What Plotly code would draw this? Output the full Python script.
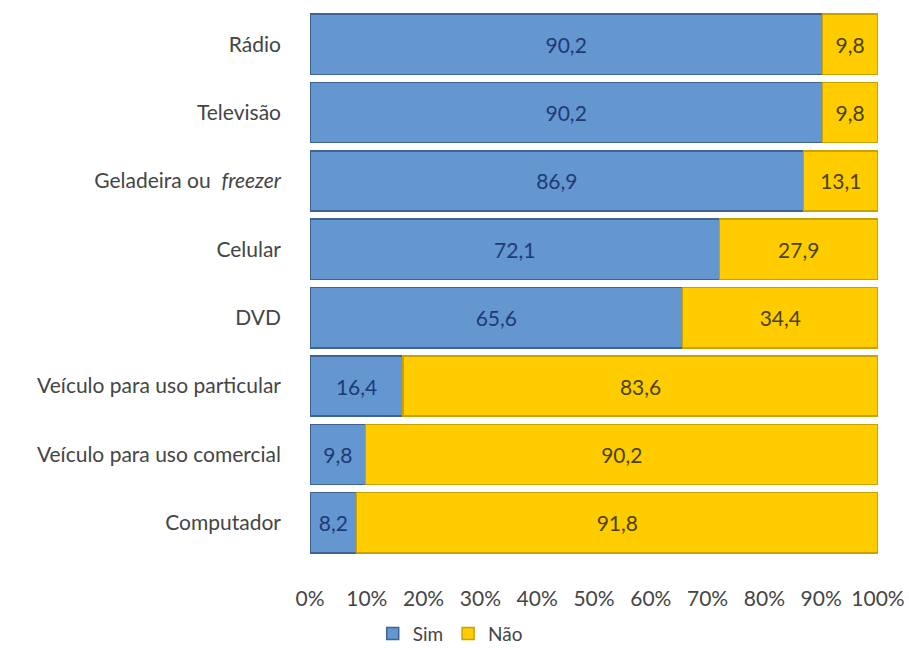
import plotly.graph_objects as go

# Posse de bens no domicílio (%)
categorias = [
    "Rádio",
    "Televisão",
    "Geladeira ou  <i>freezer</i>",
    "Celular",
    "DVD",
    "Veículo para uso particular",
    "Veículo para uso comercial",
    "Computador",
]
sim = [90.2, 90.2, 86.9, 72.1, 65.6, 16.4, 9.8, 8.2]
nao = [9.8, 9.8, 13.1, 27.9, 34.4, 83.6, 90.2, 91.8]
ticks_x = [0, 10, 20, 30, 40, 50, 60, 70, 80, 90, 100]
ticks_txt = [f"{t}%" for t in ticks_x]

FONT = "Lato"
fig = go.Figure()
fig.add_trace(go.Bar(
    name="Sim", y=categorias, x=sim, orientation="h",
    marker=dict(color="#6496cf", line=dict(color="#3d6494", width=1.5)),
    texttemplate="%{x:.1f}", textposition="inside", insidetextanchor="middle",
    textfont=dict(color="#1f3a78", size=21, family=FONT),
    constraintext="none",
))
fig.add_trace(go.Bar(
    name="Não", y=categorias, x=nao, orientation="h",
    marker=dict(color="#ffcc00", line=dict(color="#c9a200", width=1.5)),
    texttemplate="%{x:.1f}", textposition="inside", insidetextanchor="middle",
    textfont=dict(color="#4a4200", size=21, family=FONT),
    constraintext="none",
))

fig.update_layout(
    barmode="stack",
    bargap=0.12,
    separators=", ",
    width=909, height=648,
    margin=dict(l=310, r=31, t=10, b=91),
    paper_bgcolor="white", plot_bgcolor="white",
    font=dict(family=FONT, size=21, color="#454545"),
    xaxis=dict(
        range=[0, 100], tickmode="array", tickvals=ticks_x, ticktext=ticks_txt,
        showgrid=False, zeroline=False, showline=False,
        tickfont=dict(size=21, color="#454545"), ticks="",
        ticklabelstandoff=27,
    ),
    yaxis=dict(
        categoryorder="array", categoryarray=categorias,
        autorange="reversed", showgrid=False, showline=False,
        tickfont=dict(size=21, color="#454545"), ticks="", ticklabelstandoff=28,
    ),
    legend=dict(
        orientation="h", xref="container", yref="container",
        x=0.41, xanchor="left", y=0.022, yanchor="middle",
        font=dict(size=19, color="#454545"),
        itemwidth=30, traceorder="normal",
    ),
)
fig.update_xaxes(automargin=False)
fig.update_yaxes(automargin=False)

fig.write_html("out.html")
